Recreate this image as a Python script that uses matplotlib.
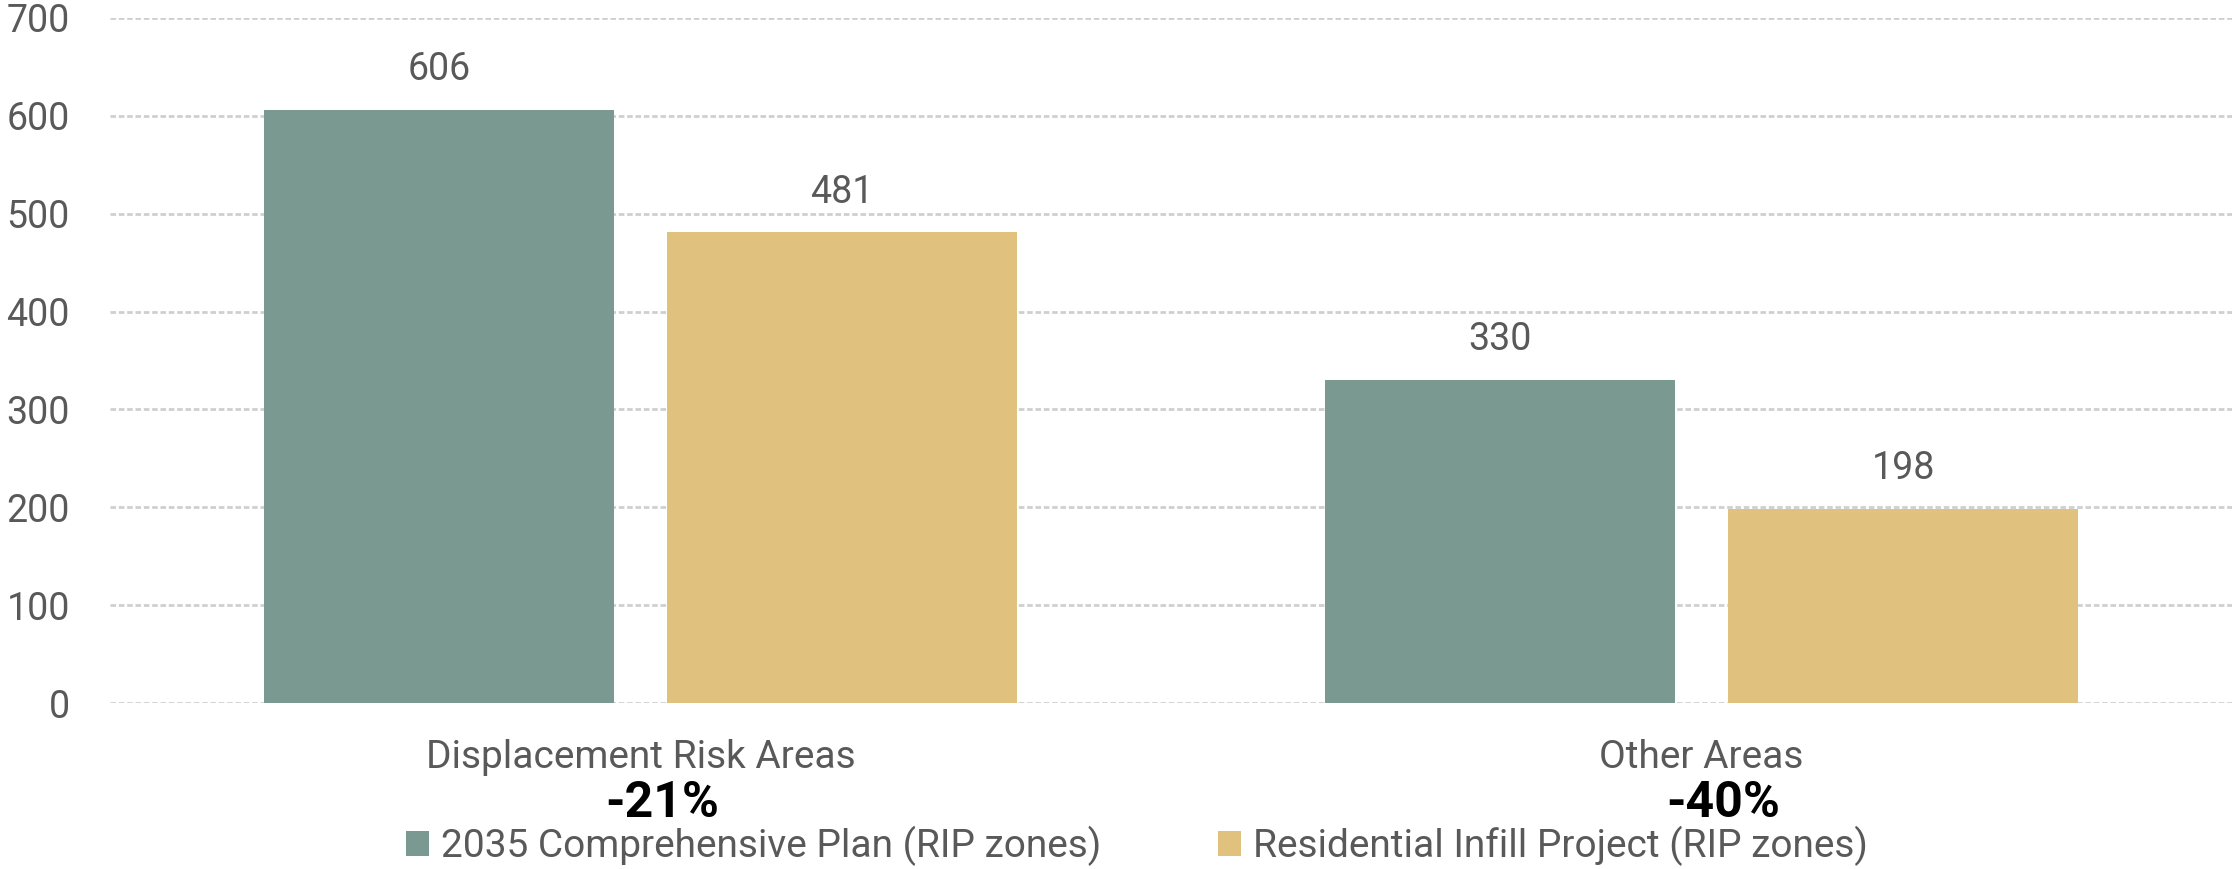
# Bar chart - units by area, 2035 Comp Plan vs Residential Infill Project
import numpy as np
import matplotlib
matplotlib.use("Agg")
import matplotlib.pyplot as plt
from matplotlib.patches import Patch

# ============================================
# Data
# ============================================

categories = ["Displacement Risk Areas", "Other Areas"]
series_names = ["2035 Comprehensive Plan (RIP zones)", "Residential Infill Project (RIP zones)"]
comp_plan = [606, 330]
infill = [481, 198]
changes = ["-21%", "-40%"]
y_ticks = [0, 100, 200, 300, 400, 500, 600, 700]

green = "#7a9a91"
gold = "#e0c17d"
text_gray = "#595959"

plt.rcParams["font.family"] = ["Roboto", "DejaVu Sans"]

# ============================================
# Plot
# ============================================

fig = plt.figure(figsize=(22.32, 8.69), dpi=100)
ax = fig.add_axes([110 / 2232, 166 / 869, 1 - 110 / 2232, (703 - 18) / 869])

x = np.arange(len(categories))
width = 0.33
offset = 0.19

bars1 = ax.bar(x - offset, comp_plan, width, color=green, zorder=2)
bars2 = ax.bar(x + offset, infill, width, color=gold, zorder=2)

for bars, vals in [(bars1, comp_plan), (bars2, infill)]:
    for b, v in zip(bars, vals):
        ax.annotate(str(v), (b.get_x() + b.get_width() / 2, v),
                    xytext=(0, 29), textcoords="offset points",
                    ha="center", va="center", fontsize=27, color=text_gray)

ax.set_xlim(-0.5, 1.5)
ax.set_ylim(0, 700)
ax.set_yticks(y_ticks)
ax.set_yticklabels([str(t) for t in y_ticks], fontsize=27, color=text_gray)
ax.tick_params(axis="y", length=0, pad=29)
ax.set_xticks([])

ax.grid(axis="y", color="#cfcfcf", linewidth=2, linestyle=(0, (2, 1)), zorder=0)
for s in ax.spines.values():
    s.set_visible(False)

# category labels and percent change under the axis
for i, cat in enumerate(categories):
    ax.text(i, -56, cat, ha="center", va="center", fontsize=28,
            color=text_gray, clip_on=False)
    ax.text(i + 0.02, -103, changes[i], ha="center", va="center", fontsize=36,
            fontweight="bold", color="black", clip_on=False)

handles = [Patch(facecolor=green), Patch(facecolor=gold)]
fig.legend(handles, series_names, loc="center", bbox_to_anchor=(1137 / 2232, 1 - 846 / 869),
           ncol=2, frameon=False, fontsize=28, labelcolor=text_gray,
           handlelength=0.6, handleheight=0.6, handletextpad=0.3, columnspacing=3.0)

plt.savefig("out.png", dpi=100)
